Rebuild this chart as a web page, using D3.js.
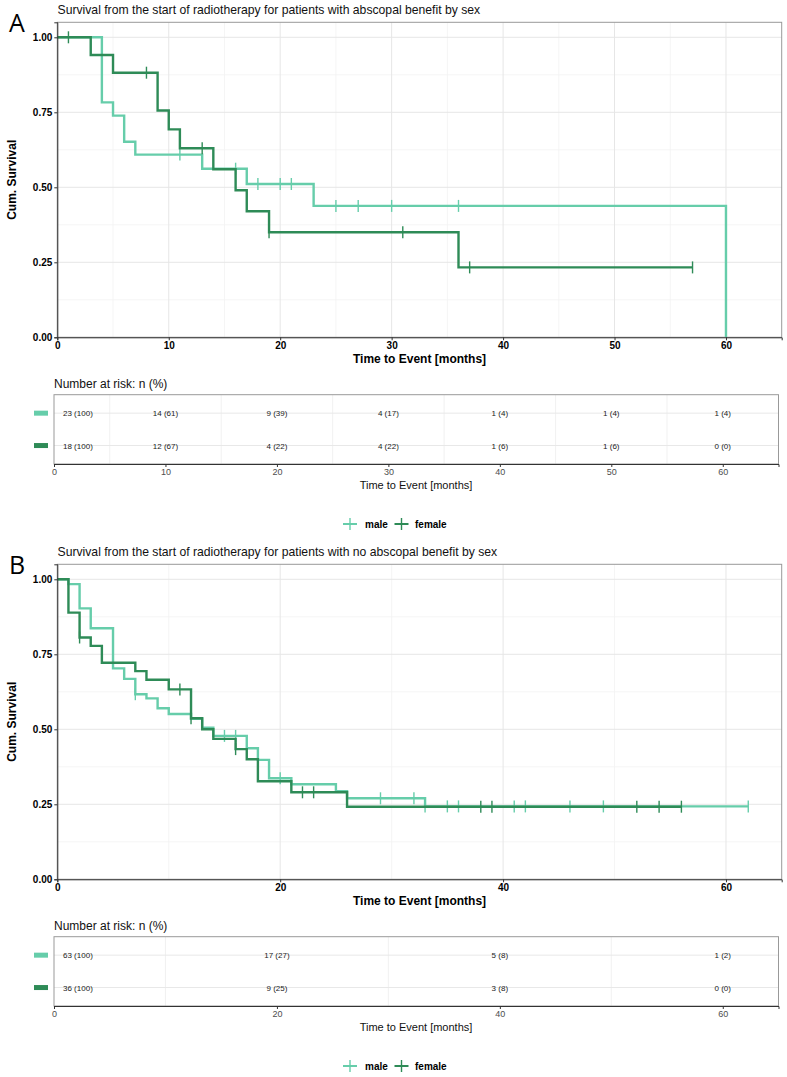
<!DOCTYPE html>
<html>
<head>
<meta charset="utf-8">
<script src="https://cdn.jsdelivr.net/npm/d3@7"></script>
<style>
  body { margin: 0; background: #fff; }
  svg { display: block; font-family: "Liberation Sans", Arial, sans-serif; }
</style>
</head>
<body>
<div id="chart"></div>
<script>
// panel A: abscopal benefit
const titleA = "Survival from the start of radiotherapy for patients with abscopal benefit by sex";
const maleTimesA = [0, 4, 5, 6, 7, 13, 17, 23, 60];
const maleSurvA = [1, 0.783, 0.739, 0.652, 0.609, 0.562, 0.511, 0.438, 0];
const maleCensA = [11, 16, 18, 20, 21, 25, 27, 30, 36];
const maleEndA = 60;
const femaleTimesA = [0, 3, 5, 9, 10, 11, 14, 16, 17, 19, 36];
const femaleSurvA = [1, 0.941, 0.882, 0.756, 0.693, 0.630, 0.560, 0.490, 0.420, 0.350, 0.233];
const femaleCensA = [1, 8, 13, 19, 31, 37, 57];
const femaleEndA = 57;
const riskTimesA = [0, 10, 20, 30, 40, 50, 60];
const riskMaleA = [23, 14, 9, 4, 1, 1, 1];
const riskMalePctA = [100, 61, 39, 17, 4, 4, 4];
const riskFemaleA = [18, 12, 4, 4, 1, 1, 0];
const riskFemalePctA = [100, 67, 22, 22, 6, 6, 0];

// panel B: no abscopal benefit
const titleB = "Survival from the start of radiotherapy for patients with no abscopal benefit by sex";
const maleTimesB = [0, 1, 2, 3, 5, 6, 7, 8, 9, 10, 12, 13, 14, 17, 18, 19, 21, 25, 26, 33];
const maleSurvB = [1, 0.984, 0.903, 0.837, 0.703, 0.668, 0.617, 0.603, 0.570, 0.551, 0.535, 0.505, 0.478, 0.437, 0.398, 0.337, 0.317, 0.294, 0.270, 0.243];
const maleCensB = [7, 15, 16, 20, 29, 32, 33, 35, 36, 41, 42, 46, 49, 62];
const maleEndB = 62;
const femaleTimesB = [0, 1, 2, 3, 4, 7, 8, 10, 12, 13, 14, 16, 17, 18, 21, 26];
const femaleSurvB = [1, 0.889, 0.806, 0.778, 0.722, 0.694, 0.665, 0.633, 0.537, 0.500, 0.468, 0.434, 0.400, 0.327, 0.290, 0.242];
const femaleCensB = [2, 11, 12, 16, 22, 23, 38, 39, 52, 54, 56];
const femaleEndB = 56;
const riskTimesB = [0, 20, 40, 60];
const riskMaleB = [63, 17, 5, 1];
const riskMalePctB = [100, 27, 8, 2];
const riskFemaleB = [36, 9, 3, 0];
const riskFemalePctB = [100, 25, 8, 0];

const groups = ["male", "female"];
const colors = { male: "#66CDAA", female: "#2E8B57" };

const svg = d3.select("#chart").append("svg")
  .attr("width", 787)
  .attr("height", 1077);

drawPanel({
  letter: "A", top: 0, title: titleA, step: 10,
  male: { times: maleTimesA, surv: maleSurvA, cens: maleCensA, end: maleEndA },
  female: { times: femaleTimesA, surv: femaleSurvA, cens: femaleCensA, end: femaleEndA },
  risk: { times: riskTimesA, male: riskMaleA, malePct: riskMalePctA, female: riskFemaleA, femalePct: riskFemalePctA }
});
drawPanel({
  letter: "B", top: 542, title: titleB, step: 20,
  male: { times: maleTimesB, surv: maleSurvB, cens: maleCensB, end: maleEndB },
  female: { times: femaleTimesB, surv: femaleSurvB, cens: femaleCensB, end: femaleEndB },
  risk: { times: riskTimesB, male: riskMaleB, malePct: riskMalePctB, female: riskFemaleB, femalePct: riskFemalePctB }
});

function survAt(times, surv, t) {
  let s = surv[0];
  times.forEach((tt, i) => { if (tt <= t) s = surv[i]; });
  return s;
}

function drawPanel(cfg) {
  const g = svg.append("g").attr("transform", `translate(0,${cfg.top})`);
  const x = d3.scaleLinear().domain([0, 65]).range([57.3, 781.7]);
  const y = d3.scaleLinear().domain([0, 1.05]).range([337.3, 22.3]);
  const majors = d3.range(0, 61, cfg.step);
  const minors = d3.range(cfg.step / 2, 65, cfg.step);

  g.append("text").attr("x", 9).attr("y", 32)
    .style("font-family", "'Open Sans', 'DejaVu Sans', sans-serif")
    .style("font-size", "25px").text(cfg.letter);
  g.append("text").attr("x", 57.5).attr("y", 14)
    .style("font-size", "12.2px").attr("fill", "#111").text(cfg.title);

  // grid
  const grid = g.append("g");
  grid.selectAll(".minx").data(minors).join("line")
    .attr("x1", d => x(d)).attr("x2", d => x(d)).attr("y1", y(0)).attr("y2", y(1.05))
    .attr("stroke", "#f3f3f3").attr("stroke-width", 0.8);
  grid.selectAll(".miny").data([0.125, 0.375, 0.625, 0.875]).join("line")
    .attr("x1", x(0)).attr("x2", x(65)).attr("y1", d => y(d)).attr("y2", d => y(d))
    .attr("stroke", "#f3f3f3").attr("stroke-width", 0.8);
  grid.selectAll(".majx").data(majors).join("line")
    .attr("x1", d => x(d)).attr("x2", d => x(d)).attr("y1", y(0)).attr("y2", y(1.05))
    .attr("stroke", "#e6e6e6").attr("stroke-width", 1);
  grid.selectAll(".majy").data([0, 0.25, 0.5, 0.75, 1]).join("line")
    .attr("x1", x(0)).attr("x2", x(65)).attr("y1", d => y(d)).attr("y2", d => y(d))
    .attr("stroke", "#e6e6e6").attr("stroke-width", 1);

  g.append("rect").attr("x", x(0)).attr("y", y(1.05))
    .attr("width", x(65) - x(0)).attr("height", y(0) - y(1.05))
    .attr("fill", "none").attr("stroke", "#999").attr("stroke-width", 1);

  // curves
  const line = d3.line().x(d => x(d[0])).y(d => y(d[1])).curve(d3.curveStepAfter);
  groups.forEach(k => {
    const s = cfg[k];
    const pts = s.times.map((t, i) => [t, s.surv[i]]);
    if (s.end > s.times[s.times.length - 1]) pts.push([s.end, s.surv[s.surv.length - 1]]);
    g.append("path").datum(pts).attr("d", line)
      .attr("fill", "none").attr("stroke", colors[k]).attr("stroke-width", 2.4);
    g.selectAll(".cens-" + k).data(s.cens).join("line")
      .attr("x1", d => x(d)).attr("x2", d => x(d))
      .attr("y1", d => y(survAt(s.times, s.surv, d)) - 6)
      .attr("y2", d => y(survAt(s.times, s.surv, d)) + 6)
      .attr("stroke", colors[k]).attr("stroke-width", 1.4);
  });

  // axes
  const xAxis = g.append("g").attr("transform", `translate(0,${y(0)})`)
    .call(d3.axisBottom(x).tickValues(majors).tickSize(3).tickPadding(2));
  xAxis.select(".domain").attr("stroke", "#333");
  xAxis.selectAll("line").attr("stroke", "#333");
  xAxis.selectAll("text").style("font-size", "10px").style("font-weight", "bold").attr("fill", "#000");
  const yAxis = g.append("g").attr("transform", `translate(${x(0)},0)`)
    .call(d3.axisLeft(y).tickValues([0, 0.25, 0.5, 0.75, 1]).tickFormat(d3.format(".2f")).tickSize(3).tickPadding(2));
  yAxis.select(".domain").attr("stroke", "#333");
  yAxis.selectAll("line").attr("stroke", "#333");
  yAxis.selectAll("text").style("font-size", "10px").style("font-weight", "bold").attr("fill", "#000");

  g.append("text").attr("x", 419.5).attr("y", 363).attr("text-anchor", "middle")
    .style("font-size", "12px").style("font-weight", "bold").text("Time to Event [months]");
  g.append("text").attr("transform", `translate(16,${(y(0) + y(1.05)) / 2}) rotate(-90)`)
    .attr("text-anchor", "middle")
    .style("font-size", "12px").style("font-weight", "bold").text("Cum. Survival");

  drawRisk(g, cfg, majors, minors);
  drawLegend(g);
}

function drawRisk(g, cfg, majors, minors) {
  const r = cfg.risk;
  const top = 394.7, bottom = 464;
  const x = d3.scaleLinear().domain([0, 65]).range([54, 778.5]);
  const y = d3.scalePoint().domain(groups).range([top, bottom]).padding(0.57);

  g.append("text").attr("x", 54).attr("y", 387.5)
    .style("font-size", "12px").attr("fill", "#111").text("Number at risk: n (%)");

  g.selectAll(".rminx").data(minors).join("line")
    .attr("x1", d => x(d)).attr("x2", d => x(d)).attr("y1", top).attr("y2", bottom)
    .attr("stroke", "#eeeeee").attr("stroke-width", 0.8);
  g.selectAll(".rrow").data(groups).join("line")
    .attr("x1", x(0)).attr("x2", x(65)).attr("y1", d => y(d)).attr("y2", d => y(d))
    .attr("stroke", "#e8e8e8").attr("stroke-width", 1);
  g.append("rect").attr("x", x(0)).attr("y", top)
    .attr("width", x(65) - x(0)).attr("height", bottom - top)
    .attr("fill", "none").attr("stroke", "#999").attr("stroke-width", 1);

  groups.forEach(k => {
    g.append("rect").attr("x", 34).attr("y", y(k) - 2.5).attr("width", 14).attr("height", 5)
      .attr("fill", colors[k]);
    const counts = r[k], pcts = r[k + "Pct"];
    g.selectAll(".rt-" + k).data(r.times).join("text")
      .attr("x", (d, i) => i === 0 ? x(d) + 9 : x(d))
      .attr("y", y(k) + 3)
      .attr("text-anchor", (d, i) => i === 0 ? "start" : "middle")
      .style("font-size", "8px").attr("fill", "#222")
      .text((d, i) => `${counts[i]} (${pcts[i]})`);
  });

  const ax = g.append("g").attr("transform", `translate(0,${bottom})`)
    .call(d3.axisBottom(x).tickValues(majors).tickSize(3).tickPadding(2));
  ax.select(".domain").attr("stroke", "#333");
  ax.selectAll("line").attr("stroke", "#333");
  ax.selectAll("text").style("font-size", "9px").attr("fill", "#4d4d4d");

  g.append("text").attr("x", 416).attr("y", 489).attr("text-anchor", "middle")
    .style("font-size", "11px").attr("fill", "#111").text("Time to Event [months]");
}

function drawLegend(g) {
  const items = [{ k: "male", cx: 350, tx: 365 }, { k: "female", cx: 401.5, tx: 415 }];
  items.forEach(it => {
    g.append("line").attr("x1", it.cx - 7).attr("x2", it.cx + 7).attr("y1", 524).attr("y2", 524)
      .attr("stroke", colors[it.k]).attr("stroke-width", 2);
    g.append("line").attr("x1", it.cx).attr("x2", it.cx).attr("y1", 518).attr("y2", 530)
      .attr("stroke", colors[it.k]).attr("stroke-width", 1.4);
    g.append("text").attr("x", it.tx).attr("y", 527.5)
      .style("font-size", "10px").style("font-weight", "bold").text(it.k);
  });
}
</script>
</body>
</html>
